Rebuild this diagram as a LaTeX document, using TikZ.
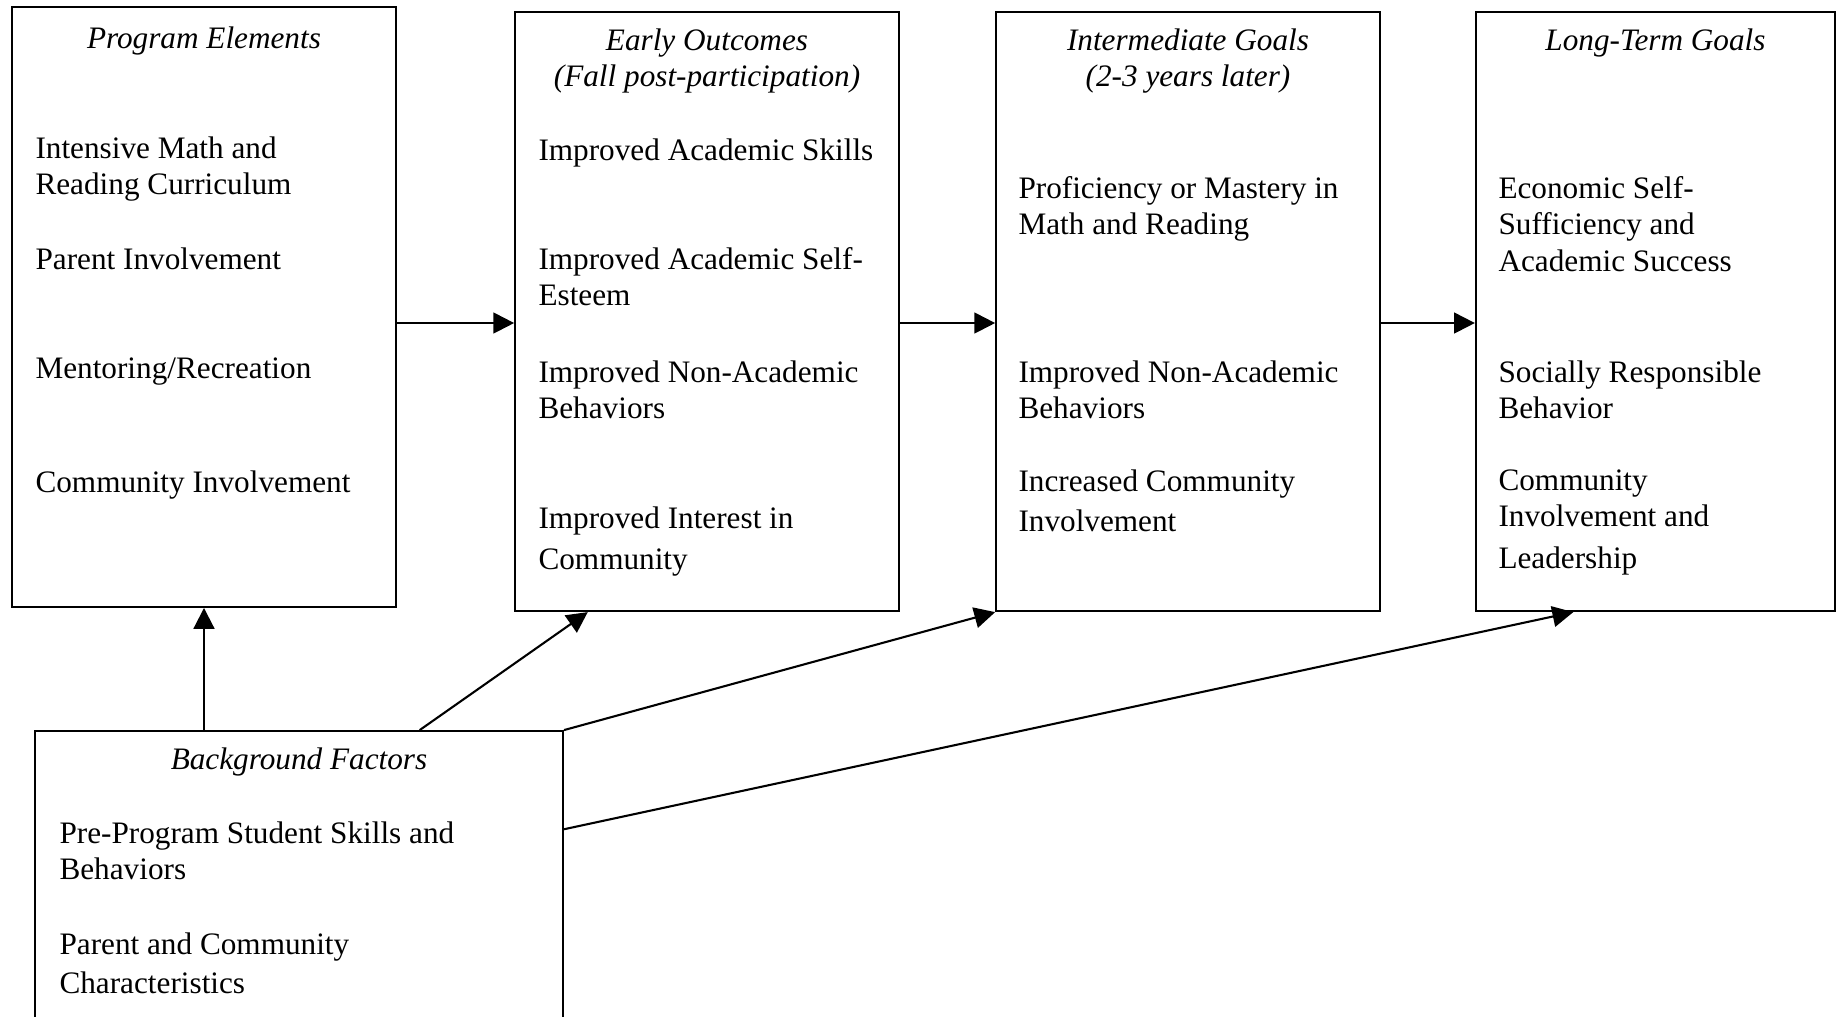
\documentclass[tikz,border=0pt]{standalone}
\usepackage{fontspec}
\setmainfont{Liberation Serif}
\usetikzlibrary{arrows.meta}

\begin{document}
\begin{tikzpicture}[x=0.0135cm, y=-0.0135cm,
    every node/.style={font=\fontsize{12}{14}\selectfont},
    box/.style={draw, line width=0.8pt, inner sep=0pt},
    head/.style={anchor=north, inner sep=0pt, align=center, font=\fontsize{12}{14}\selectfont\itshape},
    item/.style={anchor=north west, inner sep=0pt, align=left},
    arr/.style={-{Triangle[length=8pt,width=8pt]}, line width=0.8pt}]
    \useasboundingbox (0,0) rectangle (1841,1016);

    % boxes
    \node[box, minimum width=5.18cm, minimum height=8.10cm] (prog) at (204,307) {};
    \node[box, minimum width=5.18cm, minimum height=8.09cm] (early) at (707,311.5) {};
    \node[box, minimum width=5.18cm, minimum height=8.09cm] (mid) at (1188,311.5) {};
    \node[box, minimum width=4.85cm, minimum height=8.09cm] (long) at (1655.5,311.5) {};
    \node[box, minimum width=7.13cm, minimum height=4.17cm] (bg) at (299,885.5) {};

    % Program Elements
    \node[head] (progtitle) at (204,26) {Program Elements};
    \node[item] (progmath) at (35,136) {Intensive Math and\\Reading Curriculum};
    \node[item] (progparent) at (35,247) {Parent Involvement};
    \node[item] (progmentor) at (35,357) {Mentoring/Recreation};
    \node[item] (progcomm) at (35,470) {Community Involvement};

    % Early Outcomes
    \node[head] (earlytitle) at (707,28) {Early Outcomes\\(Fall post-participation)};
    \node[item] (earlyskills) at (538,138) {Improved Academic Skills};
    \node[item] (earlyesteem) at (538,247) {Improved Academic Self-\\Esteem};
    \node[item] (earlybehav) at (538,360) {Improved Non-Academic\\Behaviors};
    \node[item] (earlyinterest) at (538,506) {Improved Interest in\\[2pt]Community};

    % Intermediate Goals
    \node[head] (midtitle) at (1188,28) {Intermediate Goals\\(2-3 years later)};
    \node[item] (midmastery) at (1018,176) {Proficiency or Mastery in\\Math and Reading};
    \node[item] (midbehav) at (1018,360) {Improved Non-Academic\\Behaviors};
    \node[item] (midcomm) at (1018,469) {Increased Community\\[1.3pt]Involvement};

    % Long-Term Goals
    \node[head] (longtitle) at (1655.5,28) {Long-Term Goals};
    \node[item] (longecon) at (1498,176) {Economic Self-\\Sufficiency and\\Academic Success};
    \node[item] (longsocial) at (1498,360) {Socially Responsible\\Behavior};
    \node[item] (longcomm) at (1498,469) {Community\\Involvement and\\[2pt]Leadership};

    % Background Factors
    \node[head] (bgtitle) at (299,747) {Background Factors};
    \node[item] (bgskills) at (59,821) {Pre-Program Student Skills and\\Behaviors};
    \node[item] (bgparent) at (59,932) {Parent and Community\\[1pt]Characteristics};

    % connectors
    \coordinate (row) at (0,323);
    \draw[arr] (prog.east |- row) -- (early.west |- row);
    \draw[arr] (early.east |- row) -- (mid.west |- row);
    \draw[arr] (mid.east |- row) -- (long.west |- row);
    \draw[arr] (prog.south |- bg.north) -- (prog.south);
    \draw[arr] ([xshift=1.63cm]bg.north) -- ([xshift=-1.61cm]early.south);
    \draw[arr] (bg.north east) -- (mid.south west);
    \draw[arr] ([yshift=0.76cm]bg.east) -- ([xshift=-1.11cm]long.south);
\end{tikzpicture}
\end{document}
